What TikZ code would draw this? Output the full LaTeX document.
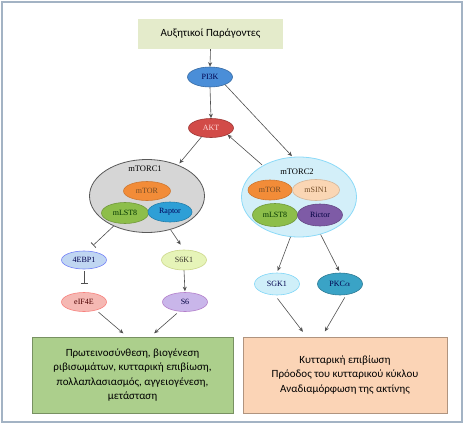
\documentclass[tikz,border=0pt]{standalone}
\usepackage{fontspec}
\setmainfont{Liberation Serif}
\newfontfamily\grfont{Carlito}
\usetikzlibrary{arrows.meta,positioning,shapes.geometric,calc}
\definecolor{FrameGray}{HTML}{A3B3C4}
\definecolor{LineGray}{HTML}{505050}
\definecolor{FactorFill}{HTML}{E4EBCB}
\definecolor{PiBlue}{HTML}{4A8ED8}
\definecolor{AktRed}{HTML}{D24B48}
\definecolor{OneGray}{HTML}{D6D6D6}
\definecolor{TwoCyan}{HTML}{D3EFF9}
\definecolor{TorOrange}{HTML}{F28C38}
\definecolor{LstGreen}{HTML}{8DBE4A}
\definecolor{RapBlue}{HTML}{2E9FD6}
\definecolor{SinPeach}{HTML}{FAD6B4}
\definecolor{RicPurple}{HTML}{7E5BA6}
\definecolor{BpBlue}{HTML}{C0D6F2}
\definecolor{SkLime}{HTML}{E6F4B8}
\definecolor{EifPink}{HTML}{F5B8B3}
\definecolor{SixLilac}{HTML}{C9B6EA}
\definecolor{SgkCyan}{HTML}{CFEFF9}
\definecolor{PkcTeal}{HTML}{3AA3C6}
\definecolor{OutGreen}{HTML}{ACCF8C}
\definecolor{OutPeach}{HTML}{FBD4B6}

\begin{document}
\begin{tikzpicture}[x=1pt,y=-1pt,
    mol/.style={
      ellipse,
      inner sep=0pt,
      minimum width=45pt,
      minimum height=20pt,
      line width=0.6pt,
      font=\fontsize{8}{9}\selectfont
    },
    cplx/.style={
      ellipse,
      inner sep=0pt,
      minimum width=115pt,
      line width=0.8pt
    },
    cplxlabel/.style={
      inner sep=0pt,
      font=\fontsize{8.5}{10}\selectfont
    },
    outcard/.style={
      rectangle,
      minimum height=76pt,
      align=center,
      line width=0.9pt,
      inner sep=0pt,
      font=\grfont\fontsize{11}{14.5}\selectfont
    },
    arrow/.style={
      -{Stealth[length=4.5pt,width=4pt]},
      line width=0.6pt,
      draw=LineGray
    },
    inhib/.style={
      -{Bar[width=7pt,line width=0.8pt]},
      line width=0.6pt,
      draw=LineGray
    }]

    \useasboundingbox (0,0) rectangle (464,424);
    \draw[FrameGray,line width=2pt] (2,2) rectangle (462,422);

    % Growth factors and upstream kinases
    \node[rectangle,fill=FactorFill,minimum width=145pt,minimum height=30pt,
      font=\grfont\fontsize{11}{13}\selectfont] (factor) at (210.5,34) {Αυξητικοί Παράγοντες};
    \node[mol,fill=PiBlue,draw=PiBlue!75!black,text=blue!30!black] (pik) at (210,77) {PI3K};
    \node[mol,fill=AktRed,draw=AktRed!75!black,text=white!85!red,minimum height=19pt] (akt) at (211,128) {AKT};

    % mTORC1
    \node[cplx,fill=OneGray,draw=black!65,minimum height=73pt] (tc1) at (147,196) {};
    \node[cplxlabel] (tc1lab) at (145,169) {mTORC1};
    \node[mol,fill=TorOrange,draw=TorOrange!85!black,text=brown!60!black,minimum width=47pt,minimum height=19pt] (tor1) at (147,191) {mTOR};
    \node[mol,fill=LstGreen,draw=LstGreen!80!black,text=black!80!green,minimum width=47pt,minimum height=21pt] (lst1) at (125,213) {mLST8};
    \node[mol,fill=RapBlue,draw=RapBlue!80!black,text=blue!35!black,minimum width=44pt] (rap) at (170,212) {Raptor};

    % mTORC2
    \node[cplx,fill=TwoCyan,draw=cyan!45!white,minimum height=80pt] (tc2) at (299,197) {};
    \node[cplxlabel] (tc2lab) at (297,172) {mTORC2};
    \node[mol,fill=TorOrange,draw=TorOrange!85!black,text=brown!60!black,minimum width=44pt] (tor2) at (270,190) {mTOR};
    \node[mol,fill=SinPeach,draw=SinPeach!85!black,text=brown!60!black,minimum width=47pt,minimum height=21pt] (sin) at (316,190) {mSIN1};
    \node[mol,fill=LstGreen,draw=LstGreen!80!black,text=black!80!green,minimum height=23pt] (lst2) at (275,215) {mLST8};
    \node[mol,fill=RicPurple,draw=RicPurple!80!black,text=blue!25!black,minimum height=22pt] (ric) at (320,215) {Rictor};

    % Downstream of mTORC1
    \node[mol,fill=BpBlue,draw=BpBlue!60!blue,text=blue!30!black,minimum height=18pt] (ebp) at (84,260) {4EBP1};
    \node[mol,fill=SkLime,draw=SkLime!75!olive,text=black!80!olive] (skk) at (184,260) {S6K1};
    \node[mol,fill=EifPink,draw=EifPink!70!red,text=red!30!black,minimum height=19pt] (eif) at (84,302) {eIF4E};
    \node[mol,fill=SixLilac,draw=SixLilac!70!violet,text=blue!25!black,minimum height=19pt] (six) at (185,302) {S6};

    % Downstream of mTORC2
    \node[mol,fill=SgkCyan,draw=cyan!50!white,text=blue!30!black,minimum height=22pt] (sgk) at (277,284) {SGK1};
    \node[mol,fill=PkcTeal,draw=PkcTeal!75!black,text=blue!30!black,minimum height=22pt] (pkc) at (340,284) {PKC$\alpha$};

    % Outcomes
    \node[outcard,fill=OutGreen,draw=OutGreen!70!black,minimum width=201pt] (outone) at (132.5,375) {
      Πρωτεινοσύνθεση, βιογένεση\\
      ριβισωμάτων, κυτταρική επιβίωση,\\
      πολλαπλασιασμός, αγγειογένεση,\\
      μετάσταση};
    \node[outcard,fill=OutPeach,draw=OutPeach!70!black,minimum width=204pt] (outtwo) at (345,375) {
      Κυτταρική επιβίωση\\
      Πρόοδος του κυτταρικού κύκλου\\
      Αναδιαμόρφωση της ακτίνης};

    % Connectors
    \draw[arrow] (factor.south) -- (pik.north);
    \draw[arrow] (pik.south) -- (akt.north);
    \draw[arrow,shorten >=1pt] (pik.-27) -- (tc2.99);
    \draw[arrow,shorten <=1pt] (tc2.139) -- (akt.-22);
    \draw[arrow,shorten >=2pt] (akt.223) -- (tc1.45);
    \draw[inhib,shorten >=8pt] (tc1.222) -- (ebp.70);
    \draw[arrow,shorten >=6pt] (tc1.-55) -- (skk.north);
    \draw[inhib,shorten >=8pt,shorten <=2pt] (ebp.south) -- (eif.north);
    \draw[arrow,shorten >=1pt] (skk.south) -- (six.north);
    \draw[arrow,shorten <=3pt,shorten >=5pt] (eif.-34) -- (outone.98);
    \draw[arrow,shorten <=3pt,shorten >=5pt] (six.-122) -- (outone.65);
    \draw[arrow,shorten >=2pt] (tc2.-102) -- (sgk.north);
    \draw[arrow,shorten >=2pt] (tc2.-60) -- (pkc.north);
    \draw[arrow,shorten <=4pt,shorten >=6pt] (sgk.-100) -- (outtwo.135);
    \draw[arrow,shorten <=3pt,shorten >=6pt] (pkc.-60) -- (outtwo.121);
\end{tikzpicture}
\end{document}
